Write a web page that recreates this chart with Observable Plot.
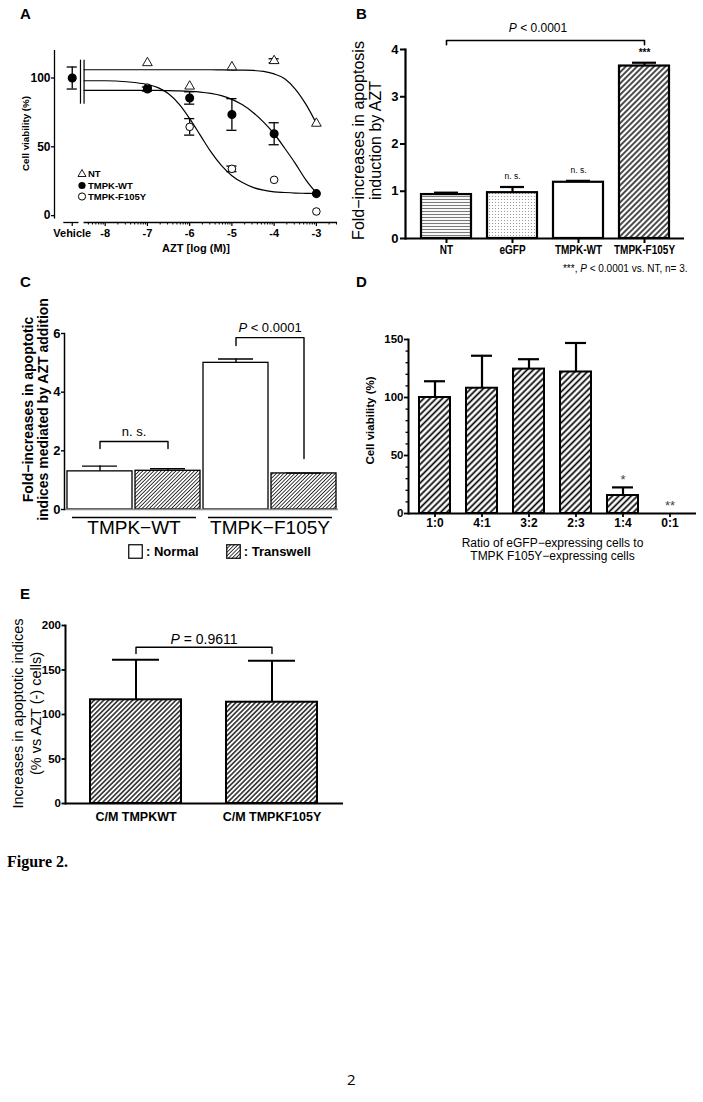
<!DOCTYPE html>
<html><head><meta charset="utf-8">
<script src="https://cdn.jsdelivr.net/npm/d3@7"></script>
<script src="https://cdn.jsdelivr.net/npm/@observablehq/plot@0.6"></script>
<style>
html,body{margin:0;padding:0;background:#fff;}
#page{position:relative;width:703px;height:1102px;background:#fff;overflow:hidden;font-family:"Liberation Sans",Arial,Helvetica,sans-serif;color:#000;}
.plabel{position:absolute;font-weight:bold;font-size:15px;line-height:1;}
</style></head><body><div id="page"></div>
<script>
// ================= DATA =================
// Panel A: dose-response (AZT log M)
const aDoses = [-7, -6, -5, -4, -3];
const aNT = [111, 94, 108, 112.5, 67];
const aNTerr = [0, 0, 0, 1.5, 0];
const aWT = [92, 85.5, 73.5, 59.5, 16];
const aWTerr = [1.5, 4.5, 11.5, 8, 0];
const aF105Y = [93, 64.5, 34, 26, 3];
const aF105Yerr = [0, 6, 2, 0, 0];
const aVehicle = 100;
const aVehicleErr = 8;
const aSeries = ["NT", "TMPK-WT", "TMPK-F105Y"];
// fitted curves
const aCurveX = [-8.5, -8, -7.5, -7, -6.75, -6.5, -6.25, -6, -5.75, -5.5, -5.25, -5, -4.75, -4.5, -4.25, -4, -3.75, -3.5, -3.25, -3];
const aNTcurve = [106, 106, 106, 106, 106, 106, 106, 106, 106, 106, 105.9, 105.8, 105.7, 105.5, 104.8, 103, 99.5, 92, 81, 67];
const aWTcurve = [91, 91, 91, 91, 91, 90.8, 90.6, 90.3, 89.8, 88.8, 87.2, 84.5, 80.5, 75, 68, 59.5, 49, 38, 26, 16.5];
const aF105Ycurve = [98, 98, 97.3, 95.3, 93, 88.5, 81, 70.5, 58.5, 46.5, 36.5, 29, 24, 20.5, 18.5, 17.3, 16.8, 16.4, 16.2, 16];
const aXTicks = [-8, -7, -6, -5, -4, -3];
const aYTicks = [0, 50, 100];

// Panel B
const bCats = ["NT", "eGFP", "TMPK-WT", "TMPK-F105Y"];
const bMean = [0.93, 0.97, 1.19, 3.65];
const bErr = [0.04, 0.12, 0.03, 0.07];
const bSig = ["", "n. s.", "n. s.", "***"];
const bYTicks = [0, 1, 2, 3, 4];

// Panel C
const cGroups = ["TMPK-WT", "TMPK-F105Y"];
const cGroupLabels = ["TMPK−WT", "TMPK−F105Y"];
const cConds = ["Normal", "Transwell"];
const cMean = [1.30, 1.32, 5.00, 1.23];   // WT-Normal, WT-Transwell, F105Y-Normal, F105Y-Transwell
const cErr = [0.18, 0.07, 0.13, 0.01];
const cYTicks = [0, 2, 4, 6];

// Panel D
const dCats = ["1:0", "4:1", "3:2", "2:3", "1:4", "0:1"];
const dMean = [100, 108, 124.5, 122, 15.5, 0];
const dErr = [14, 28, 8.5, 25, 7, 0];
const dSig = ["", "", "", "", "*", "**"];
const dYTicks = [0, 50, 100, 150];

// Panel E
const eCats = ["C/M TMPKWT", "C/M TMPKF105Y"];
const eMean = [116.5, 113.8];
const eErr = [45, 46.5];
const eYTicks = [0, 50, 100, 150, 200];

// ================= STYLE / LAYOUT =================
const FONT = '"Liberation Sans", Arial, Helvetica, sans-serif';
const page = document.getElementById("page");
const NS = "http://www.w3.org/2000/svg";
const fmt = d => String(d);

// global pattern defs
const defsSvg = document.createElementNS(NS, "svg");
defsSvg.setAttribute("width", 0); defsSvg.setAttribute("height", 0);
defsSvg.style.position = "absolute";
defsSvg.innerHTML = `<defs>
<pattern id="pHoriz" patternUnits="userSpaceOnUse" width="6" height="3"><rect width="6" height="3" fill="#fff"/><line x1="0" y1="1.5" x2="6" y2="1.5" stroke="#7a7a7a" stroke-width="1.1"/></pattern>
<pattern id="pDots" patternUnits="userSpaceOnUse" width="3" height="3"><rect width="3" height="3" fill="#fff"/><circle cx="1.5" cy="1.5" r="0.6" fill="#8a8a8a"/></pattern>
<pattern id="pDiagB" patternUnits="userSpaceOnUse" width="4" height="4" patternTransform="rotate(45)"><rect width="4" height="4" fill="#fff"/><line x1="2" y1="0" x2="2" y2="4" stroke="#000" stroke-width="1.4"/></pattern>
<pattern id="pDiagC" patternUnits="userSpaceOnUse" width="2.6" height="2.6" patternTransform="rotate(45)"><rect width="2.6" height="2.6" fill="#fff"/><line x1="1.3" y1="0" x2="1.3" y2="2.6" stroke="#222" stroke-width="0.9"/></pattern>
<pattern id="pDiagD" patternUnits="userSpaceOnUse" width="4.4" height="4.4" patternTransform="rotate(45)"><rect width="4.4" height="4.4" fill="#fff"/><line x1="2.2" y1="0" x2="2.2" y2="4.4" stroke="#000" stroke-width="1.7"/></pattern>
<pattern id="pDiagE" patternUnits="userSpaceOnUse" width="3.4" height="3.4" patternTransform="rotate(45)"><rect width="3.4" height="3.4" fill="#fff"/><line x1="1.7" y1="0" x2="1.7" y2="3.4" stroke="#000" stroke-width="1.3"/></pattern>
</defs>`;
page.appendChild(defsSvg);

function place(svg, left, top) {
  svg.style.position = "absolute";
  svg.style.left = left + "px";
  svg.style.top = top + "px";
  svg.style.overflow = "visible";
  page.appendChild(svg);
  italicP(svg);
  return svg;
}
function italicP(svg) {
  svg.querySelectorAll("text").forEach(t => {
    if (t.querySelector("tspan")) return;
    const s = t.textContent;
    const m = s.match(/(^|\s)P(?=\s[<=])/);
    if (!m) return;
    const idx = m.index + m[1].length;
    t.textContent = "";
    t.append(document.createTextNode(s.slice(0, idx)));
    const ts = document.createElementNS(NS, "tspan");
    ts.setAttribute("font-style", "italic");
    ts.textContent = "P";
    t.append(ts);
    t.append(document.createTextNode(s.slice(idx + 1)));
  });
}
// condense the x tick labels of a plot (narrow typeface look)
function condenseX(svg, factor) {
  svg.querySelectorAll('g[aria-label="x-axis tick label"] text').forEach(t => {
    const len = t.getComputedTextLength();
    t.setAttribute("textLength", (len * factor).toFixed(1));
    t.setAttribute("lengthAdjust", "spacingAndGlyphs");
  });
}
function label(txt, left, top, extra) {
  const d = document.createElement("div");
  d.className = "plabel";
  d.textContent = txt;
  d.style.left = left + "px"; d.style.top = top + "px";
  if (extra) Object.assign(d.style, extra);
  page.appendChild(d);
}
const baseStyle = {fontFamily: FONT, background: "transparent", overflow: "visible", color: "#000"};
const mid = {textAnchor: "middle", lineAnchor: "middle"};

// ================= PANEL A =================
const VEH_X = -8.78;
const aPts = aDoses.flatMap((d, i) => [
  {s: "NT", x: d, m: aNT[i], e: aNTerr[i]},
  {s: "TMPK-WT", x: d, m: aWT[i], e: aWTerr[i]},
  {s: "TMPK-F105Y", x: d, m: aF105Y[i], e: aF105Yerr[i]}
]);
aPts.push({s: "Vehicle", x: VEH_X, m: aVehicle, e: aVehicleErr});
const aCurves = aCurveX.flatMap((x, i) => [
  {s: "NT", x, y: aNTcurve[i]},
  {s: "TMPK-WT", x, y: aWTcurve[i]},
  {s: "TMPK-F105Y", x, y: aF105Ycurve[i]}
]);
const aErrPts = aPts.filter(d => d.e > 0);
const aMinor = d3.range(-9, -2).flatMap(k => d3.range(2, 10).map(m => k + Math.log10(m))).filter(v => v > -8.5 && v < -2.5);
const capA = 0.12;

const plotA = Plot.plot({
  width: 350, height: 270, marginLeft: 54, marginRight: 13, marginTop: 50, marginBottom: 48,
  x: {domain: [-9.2, -2.5]},
  y: {domain: [-5, 120]},
  style: baseStyle,
  marks: [
    Plot.ruleX([-9.2], {y1: -2.5, y2: 120, strokeWidth: 1.3}),
    Plot.ruleY([-5], {x1: -8.98, x2: -8.62, strokeWidth: 1.3}),
    Plot.ruleY([-5], {x1: -8.5, x2: -2.5, strokeWidth: 1.3}),
    Plot.ruleX([-8.585, -8.5], {y1: 81, y2: 113, strokeWidth: 1.2}),
    Plot.axisY({ticks: aYTicks, tickSize: 3, tickPadding: 1, fontSize: 12, fontWeight: "bold", label: null, tickFormat: fmt, strokeWidth: 1.3}),
    Plot.axisX({ticks: aXTicks, tickSize: 4, tickPadding: 3, fontSize: 11, fontWeight: "bold", label: null, tickFormat: fmt, strokeWidth: 1.2}),
    Plot.axisX({ticks: aMinor, tickSize: 2.5, tickFormat: () => "", label: null, strokeWidth: 1}),
    Plot.axisX({ticks: [VEH_X], tickSize: 4, tickPadding: 3, fontSize: 11, fontWeight: "bold", label: null, tickFormat: () => "Vehicle", strokeWidth: 1.2}),
    Plot.line(aCurves, {x: "x", y: "y", z: "s", curve: "monotone-x", stroke: "#000", strokeWidth: 1.2}),
    Plot.ruleX(aErrPts, {x: "x", y1: d => d.m - d.e, y2: d => d.m + d.e, strokeWidth: 1.3}),
    Plot.ruleY(aErrPts, {y: d => d.m + d.e, x1: d => d.x - capA, x2: d => d.x + capA, strokeWidth: 1.3}),
    Plot.ruleY(aErrPts, {y: d => d.m - d.e, x1: d => d.x - capA, x2: d => d.x + capA, strokeWidth: 1.3}),
    Plot.dot(aPts.filter(d => d.s === "NT"), {x: "x", y: "m", symbol: "triangle", r: 3.6, fill: "#fff", stroke: "#000", strokeWidth: 0.9}),
    Plot.dot(aPts.filter(d => d.s === "TMPK-F105Y"), {x: "x", y: "m", r: 3.8, fill: "#fff", stroke: "#000", strokeWidth: 1}),
    Plot.dot(aPts.filter(d => d.s === "TMPK-WT" || d.s === "Vehicle"), {x: "x", y: "m", r: 3.8, fill: "#000", stroke: "#000"}),
    Plot.text(["Cell viability (%)"], {frameAnchor: "left", ...mid, rotate: -90, dx: -29, dy: -3, fontSize: 9.8, fontWeight: "bold"}),
    Plot.text(["AZT [log (M)]"], {frameAnchor: "bottom", ...mid, dy: 26, fontSize: 11, fontWeight: "bold"})
  ]
});
place(plotA, 0, 0);

// Legend A (HTML)
(function () {
  const box = document.createElement("div");
  box.style.cssText = "position:absolute;left:76px;top:168px;font:bold 9.5px " + FONT + ";line-height:11.5px;";
  const syms = [
    '<path d="M6,1.5 L10,8.5 L2,8.5 Z" fill="#fff" stroke="#000" stroke-width="0.9"/>',
    '<circle cx="6" cy="5.5" r="3.6" fill="#000"/>',
    '<circle cx="6" cy="5.5" r="3.6" fill="#fff" stroke="#000" stroke-width="1"/>'
  ];
  aSeries.forEach((s, i) => {
    const row = document.createElement("div");
    row.style.cssText = "display:flex;align-items:center;height:11.5px;";
    row.innerHTML = `<svg width="12" height="11">${syms[i]}</svg><span>${s}</span>`;
    box.appendChild(row);
  });
  page.appendChild(box);
})();

// ================= PANEL B =================
const bFills = ["url(#pHoriz)", "url(#pDots)", "#ffffff", "url(#pDiagB)"];
const bData = bCats.map((c, i) => ({c, m: bMean[i], e: bErr[i], sig: bSig[i]}));
const bBracket = [
  {x: bCats[0], y: 4.1}, {x: bCats[0], y: 4.19}, {x: bCats[3], y: 4.19}, {x: bCats[3], y: 4.1}
];
const plotB = Plot.plot({
  width: 353, height: 280, marginLeft: 55, marginRight: 19, marginTop: 49, marginBottom: 42,
  x: {domain: bCats, paddingInner: 0.25, paddingOuter: 0.215},
  y: {domain: [0, 4]},
  color: {type: "identity"},
  style: baseStyle,
  marks: [
    Plot.barY(bData, {x: "c", y: "m", fill: (d, i) => bFills[i], stroke: "#000", strokeWidth: 2.2}),
    Plot.ruleX(bData, {x: "c", y1: "m", y2: d => d.m + d.e, strokeWidth: 2.2}),
    Plot.tickY(bData, {x: "c", y: d => d.m + d.e, strokeWidth: 2.2, insetLeft: 13, insetRight: 13}),
    Plot.ruleY([0], {strokeWidth: 2.2}),
    Plot.frame({anchor: "left", strokeWidth: 2.2}),
    Plot.axisY({ticks: bYTicks, tickSize: 5, tickPadding: 2, fontSize: 13, fontWeight: "bold", label: null, tickFormat: fmt, strokeWidth: 2}),
    Plot.axisX({tickSize: 5, tickPadding: 2, fontSize: 12.5, fontWeight: "bold", label: null, strokeWidth: 2}),
    Plot.text(bData.filter(d => d.sig === "n. s."), {x: "c", y: d => d.m + d.e, text: "sig", dy: -11, fontSize: 8.5}),
    Plot.text(bData.filter(d => d.sig === "***"), {x: "c", y: d => d.m + d.e, text: "sig", dy: -10, fontSize: 10, fontWeight: "bold"}),
    Plot.line(bBracket, {x: "x", y: "y", strokeWidth: 1.6}),
    Plot.text(["P < 0.0001"], {frameAnchor: "top", ...mid, dx: -7, dy: -21, fontSize: 12}),
    Plot.text(["Fold−increases in apoptosis\ninduction by AZT"], {frameAnchor: "left", ...mid, rotate: -90, dx: -38.5, dy: -3.5, fontSize: 16, lineHeight: 1.05}),
    Plot.text(["***, P < 0.0001 vs. NT, n= 3."], {frameAnchor: "bottom-right", textAnchor: "end", lineAnchor: "middle", dx: 3, dy: 30, fontSize: 10})
  ]
});
place(plotB, 350, 0);
condenseX(plotB, 0.8);

// ================= PANEL C =================
const cFillByCond = {Normal: "#ffffff", Transwell: "url(#pDiagC)"};
const cData = cGroups.flatMap((g, gi) => cConds.map((c, ci) => ({key: g + "|" + c, group: g, cond: c, m: cMean[gi * 2 + ci], e: cErr[gi * 2 + ci]})));
const cKeys = cData.map(d => d.key);
const cBrackets = [
  {id: 0, from: cKeys[0], to: cKeys[1], top: 2.32, left: 2.08, right: 2.08, label: "n. s."},
  {id: 1, from: cKeys[2], to: cKeys[3], top: 5.86, left: 5.59, right: 1.74, label: "P < 0.0001"}
];
const cBracketPts = cBrackets.flatMap(b => [
  {id: b.id, x: b.from, y: b.left}, {id: b.id, x: b.from, y: b.top},
  {id: b.id, x: b.to, y: b.top}, {id: b.id, x: b.to, y: b.right}
]);
const cGroupRows = cGroups.map((g, i) => ({g, lab: cGroupLabels[i], first: cKeys[i * 2], last: cKeys[i * 2 + 1]}));
const plotC = Plot.plot({
  width: 350, height: 290, marginLeft: 64, marginRight: 12, marginTop: 63, marginBottom: 51,
  x: {domain: cKeys, paddingInner: 0.05, paddingOuter: 0.015, axis: null},
  y: {domain: [0, 6]},
  color: {type: "identity"},
  style: baseStyle,
  marks: [
    Plot.barY(cData, {x: "key", y: "m", fill: d => cFillByCond[d.cond], stroke: "#000", strokeWidth: 1.3}),
    Plot.ruleX(cData, {x: "key", y1: "m", y2: d => d.m + d.e, strokeWidth: 1.4}),
    Plot.tickY(cData, {x: "key", y: d => d.m + d.e, strokeWidth: 1.4, insetLeft: 15, insetRight: 15}),
    Plot.ruleY([0], {stroke: "#8c8c8c", strokeWidth: 1.5}),
    Plot.frame({anchor: "left", strokeWidth: 1.5}),
    Plot.axisY({ticks: cYTicks, tickSize: 3, tickPadding: 1, fontSize: 13, fontWeight: "bold", label: null, tickFormat: fmt, strokeWidth: 1.4}),
    Plot.line(cBracketPts, {x: "x", y: "y", z: "id", strokeWidth: 1.4}),
    Plot.text(cBrackets, {x: "from", y: "top", text: "label", dx: 34, dy: -10, fontSize: 13, fontWeight: d => d.id === 0 ? "bold" : "normal"}),
    Plot.ruleY(cGroupRows, {y: -0.27, x1: "first", x2: "last", insetLeft: 5, insetRight: 4, strokeWidth: 1.5}),
    Plot.text(cGroupRows, {x: "first", y: -0.27, text: "lab", dx: 34, dy: 10.5, fontSize: 19}),
    Plot.text(["Fold−increases in apoptotic\nindices mediated by AZT addition"], {frameAnchor: "left", ...mid, rotate: -90, dx: -29, dy: -12, fontSize: 14, fontWeight: "bold", lineHeight: 1.12})
  ]
});
place(plotC, 0, 270);

// Legend C (HTML)
(function () {
  const box = document.createElement("div");
  box.style.cssText = "position:absolute;left:128px;top:544px;font:bold 13px " + FONT + ";display:flex;align-items:center;";
  cConds.forEach((c, i) => {
    const item = document.createElement("div");
    item.style.cssText = "display:flex;align-items:center;margin-right:" + (i === 0 ? 27 : 0) + "px;";
    item.innerHTML = `<svg width="15" height="15" style="margin-right:3px"><rect x="0.75" y="0.75" width="13.5" height="13.5" fill="${cFillByCond[c]}" stroke="#000" stroke-width="1.2"/></svg><span>: ${c}</span>`;
    box.appendChild(item);
  });
  page.appendChild(box);
})();

// ================= PANEL D =================
const dData = dCats.map((c, i) => ({c, m: dMean[i], e: dErr[i], sig: dSig[i]}));
const dErrData = dData.filter(d => d.e > 0);
const dMinor = d3.range(0, 151, 10).filter(v => v % 50 !== 0);
const plotD = Plot.plot({
  width: 353, height: 300, marginLeft: 58, marginRight: 7, marginTop: 69, marginBottom: 57,
  x: {domain: dCats, paddingInner: 0.35, paddingOuter: 0.177},
  y: {domain: [0, 150]},
  style: baseStyle,
  marks: [
    Plot.barY(dData, {x: "c", y: "m", fill: "url(#pDiagD)", stroke: "#000", strokeWidth: 2}),
    Plot.ruleX(dErrData, {x: "c", y1: "m", y2: d => d.m + d.e, strokeWidth: 2.2}),
    Plot.tickY(dErrData, {x: "c", y: d => d.m + d.e, strokeWidth: 2.2, insetLeft: 5, insetRight: 5}),
    Plot.ruleY([0], {strokeWidth: 2}),
    Plot.frame({anchor: "left", strokeWidth: 2}),
    Plot.axisY({ticks: dYTicks, tickSize: 4, tickPadding: 1, fontSize: 11.5, fontWeight: "bold", label: null, tickFormat: fmt, strokeWidth: 1.8}),
    Plot.axisY({ticks: dMinor, tickSize: 2.5, tickFormat: () => "", label: null, strokeWidth: 1.3}),
    Plot.axisX({tickSize: 4, tickPadding: 1, fontSize: 12, fontWeight: "bold", label: null, strokeWidth: 1.8}),
    Plot.text(dData, {x: "c", y: d => d.m + d.e, text: "sig", dy: -8, fontSize: 13, fill: "#444"}),
    Plot.text(["Cell viability (%)"], {frameAnchor: "left", ...mid, rotate: -90, dx: -38, dy: -6, fontSize: 11.5, fontWeight: "bold"}),
    Plot.text(["Ratio of eGFP−expressing cells to\nTMPK F105Y−expressing cells"], {frameAnchor: "bottom", ...mid, dy: 35.5, fontSize: 12, lineHeight: 1.08})
  ]
});
place(plotD, 350, 270);

// ================= PANEL E =================
const eData = eCats.map((c, i) => ({c, m: eMean[i], e: eErr[i]}));
const eBracket = [
  {x: eCats[0], y: 168.5}, {x: eCats[0], y: 175.6}, {x: eCats[1], y: 175.6}, {x: eCats[1], y: 168.5}
];
const eBracketLabel = [{x: eCats[0], y: 175.6, t: "P = 0.9611"}];
const plotE = Plot.plot({
  width: 350, height: 250, marginLeft: 65, marginRight: 7, marginTop: 35, marginBottom: 37,
  x: {domain: eCats, paddingInner: 0.33, paddingOuter: 0.18},
  y: {domain: [0, 200]},
  style: baseStyle,
  marks: [
    Plot.barY(eData, {x: "c", y: "m", fill: "url(#pDiagE)", stroke: "#000", strokeWidth: 2}),
    Plot.ruleX(eData, {x: "c", y1: "m", y2: d => d.m + d.e, strokeWidth: 2}),
    Plot.tickY(eData, {x: "c", y: d => d.m + d.e, strokeWidth: 2, insetLeft: 22, insetRight: 22}),
    Plot.ruleY([0], {strokeWidth: 2}),
    Plot.frame({anchor: "left", strokeWidth: 2}),
    Plot.axisY({ticks: eYTicks, tickSize: 3.5, tickPadding: 1, fontSize: 11.5, fontWeight: "bold", label: null, tickFormat: fmt, strokeWidth: 1.8}),
    Plot.axisX({tickSize: 0, tickPadding: 9, fontSize: 12.5, fontWeight: "bold", label: null}),
    Plot.line(eBracket, {x: "x", y: "y", strokeWidth: 1.4}),
    Plot.text(eBracketLabel, {x: "x", y: "y", text: "t", dx: 68, dy: -8, fontSize: 14}),
    Plot.text(["Increases in apoptotic indices\n(% vs AZT (-) cells)"], {frameAnchor: "left", ...mid, rotate: -90, dx: -39, dy: -1, fontSize: 14.5, lineHeight: 1.2})
  ]
});
place(plotE, 0, 590);

// ================= LABELS =================
label("A", 20, 6);
label("B", 356, 6);
label("C", 20, 274);
label("D", 356, 274);
label("E", 20, 586);
label("Figure 2.", 7, 854, {fontFamily: '"Liberation Serif","Times New Roman",serif', fontSize: "16px"});
label("2", 347, 1072, {fontFamily: '"Open Sans","Noto Sans",sans-serif', fontWeight: "normal", fontSize: "15px"});
</script></body></html>
